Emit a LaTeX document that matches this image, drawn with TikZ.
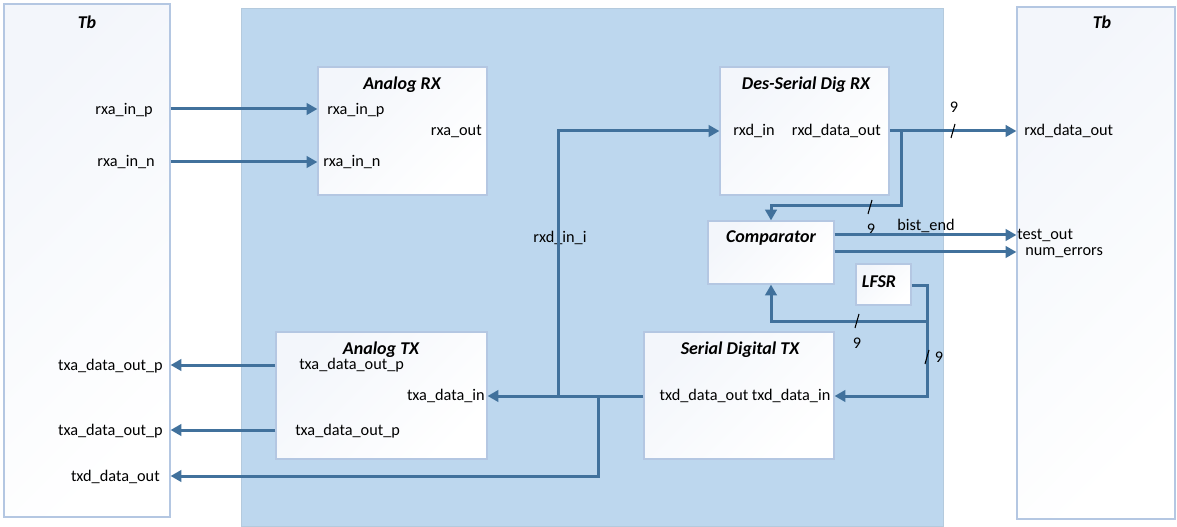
\documentclass[tikz,border=0pt]{standalone}
\usepackage{fontspec}
\setmainfont{Carlito}
\usetikzlibrary{arrows.meta,fit}
\definecolor{wirec}{HTML}{41719C}
\definecolor{panelc}{HTML}{BDD7EE}
\definecolor{edgec}{HTML}{B4C7E2}
\definecolor{shadec}{HTML}{F3F6FB}
\begin{document}
\begin{tikzpicture}[x=0.75pt,y=-0.75pt,
  font=\fontsize{12.2}{14}\selectfont,
  tbbox/.style={draw=edgec, line width=0.9pt, left color=shadec, right color=white, shading angle=45, inner sep=0pt},
  panel/.style={draw=panelc!85!gray, line width=0.6pt, fill=panelc, inner sep=0pt},
  blk/.style={draw=edgec, line width=0.9pt, left color=shadec, right color=white, shading angle=45, inner sep=0pt},
  title/.style={inner sep=0pt, font=\fontsize{13.5}{15}\selectfont\bfseries\itshape},
  lbl/.style={inner sep=0pt},
  wire/.style={draw=wirec, line width=2.25pt},
  arr/.style={wire, -{Triangle[length=8pt,width=8.5pt]}},
  tick/.style={draw=black, line width=0.8pt}]
\useasboundingbox (0,0) rectangle (1177,527);

% testbench frames and the design under test
\node[tbbox, fit={(4,4)(170,517)}] (tbl) {};
\node[tbbox, fit={(1017,7)(1175,519)}] (tbr) {};
\node[panel, fit={(241,8)(943,526)}] (dut) {};

% blocks
\node[blk, fit={(318,67)(487,195)}] (arx) {};
\node[blk, fit={(720,67)(889,195)}] (drx) {};
\node[blk, fit={(708,221)(834,284)}] (cmp) {};
\node[blk, fit={(856,264)(911,305)}] (lfsr) {};
\node[blk, fit={(276,332)(487,459)}] (atx) {};
\node[blk, fit={(644,332)(834,459)}] (stx) {};

% titles
\node[title] (tTbl) at (87,22) {Tb};
\node[title] (tTbr) at (1102,22) {Tb};
\node[title] (tArx) at (402,85) {Analog RX};
\node[title] (tDrx) at (806,85) {Des-Serial Dig RX};
\node[title] (tCmp) at (771,238) {Comparator};
\node[title] (tLfsr) at (879,282) {LFSR};
\node[title] (tAtx) at (381,350) {Analog TX};
\node[title] (tStx) at (740,350) {Serial Digital TX};

% port labels inside the blocks
\node[lbl, anchor=west] (pArxP) at (327,110) {rxa\_in\_p};
\node[lbl, anchor=east] (pArxO) at (482,131) {rxa\_out};
\node[lbl, anchor=west] (pArxN) at (323,162) {rxa\_in\_n};
\node[lbl, anchor=west] (pDrxI) at (733,131) {rxd\_in};
\node[lbl, anchor=east] (pDrxO) at (881,131) {rxd\_data\_out};
\node[lbl, anchor=west] (pAtxP) at (299,365) {txa\_data\_out\_p};
\node[lbl, anchor=east] (pAtxI) at (485,396) {txa\_data\_in};
\node[lbl, anchor=west] (pAtxN) at (295,431) {txa\_data\_out\_p};
\node[lbl] (pStx) at (745,396) {txd\_data\_out txd\_data\_in};

% testbench port labels
\node[lbl, anchor=east] (lRxP) at (153,110) {rxa\_in\_p};
\node[lbl, anchor=east] (lRxN) at (155,162) {rxa\_in\_n};
\node[lbl, anchor=east] (lTxP) at (163,366) {txa\_data\_out\_p};
\node[lbl, anchor=east] (lTxN) at (163,431) {txa\_data\_out\_p};
\node[lbl, anchor=east] (lTxD) at (160,477) {txd\_data\_out};
\node[lbl, anchor=west] (rRxD) at (1024,131) {rxd\_data\_out};
\node[lbl, anchor=west] (rTest) at (1017,235) {test\_out};
\node[lbl, anchor=west] (rNerr) at (1025,253) {num\_errors};

% net labels
\node[lbl] (nRxdI) at (560,238) {rxd\_in\_i};
\node[lbl] (nBist) at (926,226) {bist\_end};
\node[lbl] (w1) at (954,107) {9};
\node[lbl] (w2) at (871,229) {9};
\node[lbl] (w3) at (857,343) {9};
\node[lbl] (w4) at (939,357) {9};

% junction points
\coordinate (jRx) at (558,396);
\coordinate (jTx) at (598,396);
\coordinate (jDo) at (901,131);
\coordinate (jLf) at (927,321);

% analog receive inputs
\draw[arr] (tbl.east |- 0,109) -- (arx.west |- 0,109);
\draw[arr] (tbl.east |- 0,162) -- (arx.west |- 0,162);

% serial transmit data, loop back to the receiver and out to the testbench
\draw[arr] (stx.west |- jTx) -- (atx.east |- jTx);
\draw[arr] (jRx) -- (558,131) -- (drx.west |- 0,131);
\draw[arr] (jTx) -- (598,476) -- (tbl.east |- 0,476);

% analog transmit outputs
\draw[arr] (atx.west |- 0,365) -- (tbl.east |- 0,365);
\draw[arr] (atx.west |- 0,430) -- (tbl.east |- 0,430);

% received data to testbench and comparator
\draw[arr] (drx.east |- jDo) -- (tbr.west |- jDo);
\draw[arr] (jDo) -- (901,206) -- (771,206) -- (771,0 |- cmp.north);

% comparator results
\draw[arr] (cmp.east |- 0,235) -- (tbr.west |- 0,235);
\draw[arr] (cmp.east |- 0,252) -- (tbr.west |- 0,252);

% LFSR pattern to transmitter and comparator
\draw[arr] (lfsr.east |- 0,285) -- (927,285) -- (927,396) -- (stx.east |- 0,396);
\draw[arr] (jLf) -- (771,321) -- (771,0 |- cmp.south);

% bus width marks
\draw[tick] (951,138) -- (955,124);
\draw[tick] (868,214) -- (872,200);
\draw[tick] (855,328) -- (859,314);
\draw[tick] (925,364) -- (929,350);
\end{tikzpicture}
\end{document}
